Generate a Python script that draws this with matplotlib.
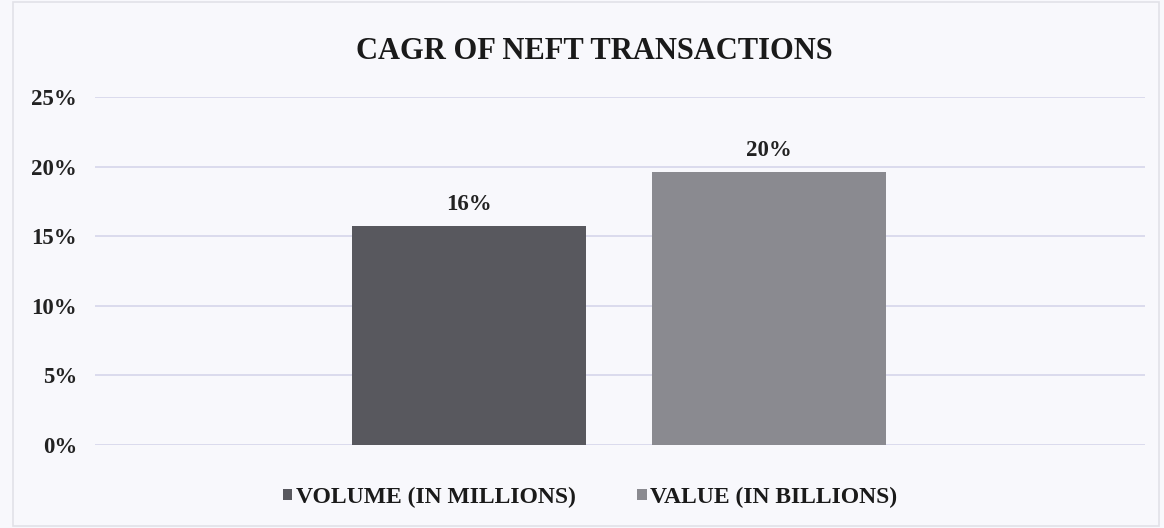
import matplotlib
matplotlib.use("Agg")
import matplotlib.pyplot as plt
from matplotlib.ticker import PercentFormatter
from matplotlib.patches import Rectangle

series = ["VOLUME (IN MILLIONS)", "VALUE (IN BILLIONS)"]
cagr = [0.157, 0.196]
colors = ["#58585e", "#8a8a90"]
yticks = [0.0, 0.05, 0.10, 0.15, 0.20, 0.25]

plt.rcParams["font.family"] = ["Liberation Serif", "DejaVu Serif"]

bg = "#f8f8fc"
fig = plt.figure(figsize=(11.64, 5.28), dpi=100, facecolor=bg)
ax = fig.add_axes([0.0816, 0.1572, 0.902, 0.6591], facecolor=bg)

# outer frame
fig.patches.append(Rectangle((0.011, 0.004), 0.985, 0.992, transform=fig.transFigure,
                             fill=False, edgecolor="#e2e2e8", linewidth=1.2))

centers = [0.356, 0.642]
width = 0.223
for c, v, col, name in zip(centers, cagr, colors, series):
    ax.bar(c, v, width=width, color=col, label=name, zorder=3)
    ax.text(c, v + 0.008, f"{v:.0%}", ha="center", va="bottom",
            fontsize=16.5, fontweight="bold", color="#222222")

ax.set_xlim(0, 1)
ax.set_ylim(0, 0.25)
ax.set_yticks(yticks)
ax.yaxis.set_major_formatter(PercentFormatter(1.0, decimals=0))
ax.set_xticks([])
for s in ax.spines.values():
    s.set_visible(False)
ax.grid(axis="y", color="#d6d6ea", linewidth=1.2, zorder=0)
ax.tick_params(axis="y", length=0, pad=13, labelsize=16.5, labelcolor="#222222")
for lab in ax.get_yticklabels():
    lab.set_fontweight("bold")

fig.text(0.511, 0.903, "CAGR OF NEFT TRANSACTIONS", ha="center", va="center",
         fontsize=22, fontweight="bold", color="#1a1a1a")

leg = fig.legend(loc="center", bbox_to_anchor=(0.507, 0.058), ncol=2, frameon=False,
                 prop={"weight": "bold", "size": 17}, handlelength=0.4, handleheight=0.4,
                 handletextpad=0.15, columnspacing=2.6)
for t in leg.get_texts():
    t.set_color("#1a1a1a")

fig.savefig("out.png", dpi=100, facecolor=bg)
